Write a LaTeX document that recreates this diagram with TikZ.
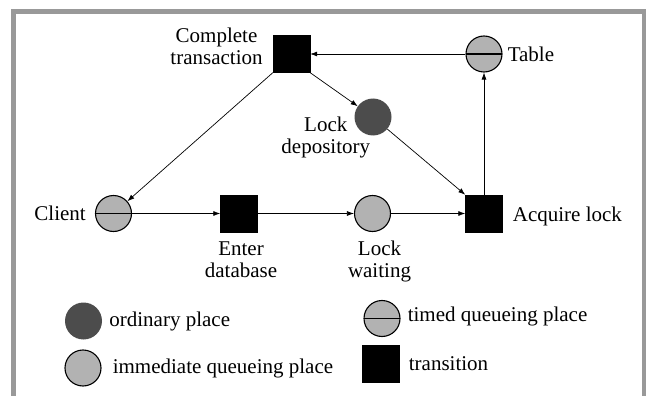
\documentclass[tikz,border=0pt]{standalone}
\usepackage{fontspec}
\setmainfont{Liberation Serif}
\usetikzlibrary{arrows.meta, positioning}

\begin{document}
\begin{tikzpicture}[x=1pt, y=-1pt, >={Latex[length=7pt,width=5pt]},
  font=\fontsize{21}{22}\selectfont,
  trans/.style={draw=black, fill=black, minimum size=37pt, inner sep=0pt},
  place/.style={circle, draw=black, line width=1.1pt, fill=gray!60, minimum size=36pt, inner sep=0pt},
  ordplace/.style={circle, fill=black!70, minimum size=37pt, inner sep=0pt},
  timedplace/.style={place, path picture={\draw[line width=1.3pt] (path picture bounding box.west) -- (path picture bounding box.east);}},
  lbl/.style={inner sep=0pt, align=center},
  arc/.style={->, line width=0.7pt}]

\useasboundingbox (0,0) rectangle (646,396);

% frame, open at the bottom
\draw[black!40, line width=5pt] (13.5,400) -- (13.5,11.5) -- (644.5,11.5) -- (644.5,400);

% places and transitions
\node[trans] (comp) at (291.5,54) {};
\node[timedplace] (table) at (484,54) {};
\node[ordplace] (dep) at (373,117) {};
\node[timedplace] (client) at (113.5,213.5) {};
\node[trans] (enter) at (239,213.5) {};
\node[place] (wait) at (372.5,213.5) {};
\node[trans] (acq) at (484,213.5) {};

\node[lbl, left=10pt of comp, yshift=8pt] (complbl) {Complete\\transaction};
\node[lbl, right=5pt of table] (tablelbl) {Table};
\node[lbl, left=-16pt of dep, yshift=-20pt] (deplbl) {Lock\\depository};
\node[lbl, left=9pt of client] (clientlbl) {Client};
\node[lbl, below=9pt of enter, xshift=2pt] (enterlbl) {Enter\\database};
\node[lbl, below=9pt of wait, xshift=7pt] (waitlbl) {Lock\\waiting};
\node[lbl, right=10pt of acq, yshift=-3pt] (acqlbl) {Acquire lock};

\draw[arc] (table) -- (comp);
\draw[arc] (comp.south east) -- (dep);
\draw[arc] (comp.south west) -- (client);
\draw[arc] (dep) -- (acq.north west);
\draw[arc] (acq) -- (table);
\draw[arc] (client) -- (enter);
\draw[arc] (enter) -- (wait);
\draw[arc] (wait) -- (acq);

% legend
\node[ordplace] (lgord) at (83.5,321) {};
\node[lbl, right=7pt of lgord] (lgordlbl) {ordinary place};
\node[place] (lgimm) at (83,368) {};
\node[lbl, right=11pt of lgimm] (lgimmlbl) {immediate queueing place};
\node[timedplace] (lgtimed) at (382,318.5) {};
\node[lbl, right=7pt of lgtimed, yshift=2pt] (lgtimedlbl) {timed queueing place};
\node[trans] (lgtrans) at (381,363.5) {};
\node[lbl, right=9pt of lgtrans] (lgtranslbl) {transition};

\end{tikzpicture}
\end{document}
